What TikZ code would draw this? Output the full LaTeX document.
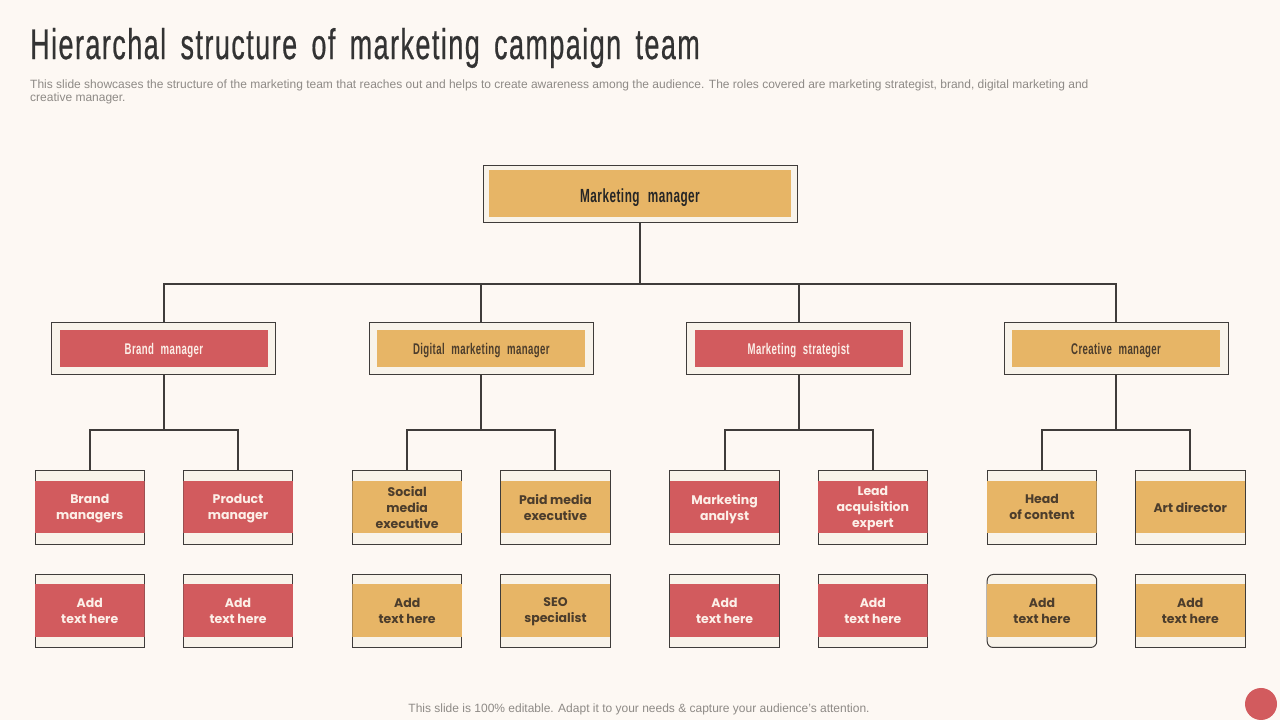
\documentclass[tikz,border=0pt]{standalone}
\usepackage{fontspec}
\usepackage{xcolor}
\usetikzlibrary{positioning}
\setmainfont{Liberation Sans}
\newfontfamily\narrowfont[FakeStretch=0.625,FakeBold=0.5,LetterSpace=3.5,WordSpace=1.6]{Liberation Sans}
\newfontfamily\boxfont[FakeStretch=0.62,LetterSpace=2.5,WordSpace=2.2]{Liberation Sans}
\newfontfamily\roundfont{Poppins}
\definecolor{pagecream}{HTML}{FDF8F3}
\definecolor{boxcream}{HTML}{F8F3EA}
\definecolor{bandred}{HTML}{D25B5E}
\definecolor{bandgold}{HTML}{E7B566}
\definecolor{linedark}{HTML}{3F3C3A}
\definecolor{labelbrown}{HTML}{4C3D2C}
\definecolor{notegray}{HTML}{8E8A86}
\definecolor{labelcream}{HTML}{FCEFE8}

\begin{document}
\begin{tikzpicture}[x=1pt,y=1pt,
                    band/.style n args={3}{draw=linedark,line width=1pt,fill=boxcream,outer sep=0pt,inner sep=0pt,align=center,
                        postaction={path picture={\fill[#1,sharp corners] ([xshift=#2,yshift=-#3]path picture bounding box.north west) rectangle ([xshift=-#2,yshift=#3]path picture bounding box.south east);}}},
                    topbox/.style={band={bandgold}{6pt}{5pt},minimum width=314pt,minimum height=57pt,text=black!85,text height=22pt,text depth=4.5pt,font=\boxfont\bfseries\fontsize{19}{21}\selectfont},
                    midbox/.style={band={#1}{8pt}{7.5pt},minimum width=224pt,minimum height=52.5pt,text height=15.6pt,text depth=4.5pt,font=\boxfont\bfseries\fontsize{15.5}{18}\selectfont},
                    leafbox/.style={band={#1}{0pt}{11pt},minimum width=109.5pt,minimum height=74pt,text depth=1pt,font=\roundfont\bfseries\fontsize{12.5}{16}\selectfont},
                    addbox/.style={band={#1}{0pt}{10pt},minimum width=109.5pt,minimum height=73pt,text depth=1pt,font=\roundfont\bfseries\fontsize{12.5}{16}\selectfont},
                    edge from parent/.style={draw=linedark,line width=2pt},
                    level 1/.style={level distance=154.5pt,sibling distance=317.4pt,
                        edge from parent path={(\tikzparentnode.south) -- ++(0,-61.5pt) -| (\tikzchildnode.north)}},
                    level 2/.style={level distance=159pt,sibling distance=148.3pt,
                        edge from parent path={(\tikzparentnode.south) -- ++(0,-55pt) -| (\tikzchildnode.north)}}]
    \path[use as bounding box,fill=pagecream] (0,0) rectangle (1280,720);
    % heading
    \node[anchor=west,inner sep=0pt,text=black!80,font=\narrowfont\fontsize{43}{46}\selectfont] (title) at (30,672) {Hierarchal structure of marketing campaign team};
    \node[anchor=north west,inner sep=0pt,text=notegray,align=left,font=\fontsize{12}{13}\selectfont] (intro) at (30,640) {This slide showcases the structure of the marketing team that reaches out and helps to create awareness among the audience. The roles covered are marketing strategist, brand, digital marketing and\\creative manager.};
    % tree
    \node[topbox] (manager) at (640,526) {Marketing manager}
        child {node[midbox=bandred,text=labelcream] (brand) {Brand manager}
            child {node[leafbox=bandred,text=labelcream] (brandleaf) {Brand\\managers}}
            child {node[leafbox=bandred,text=labelcream] (productleaf) {Product\\manager}}
        }
        child {node[midbox=bandgold,text=labelbrown] (digital) {Digital marketing manager}
            child {node[leafbox=bandgold,text=labelbrown] (socialleaf) {Social\\media\\executive}}
            child {node[leafbox=bandgold,text=labelbrown] (paidleaf) {Paid media\\executive}}
        }
        child {node[midbox=bandred,text=labelcream] (strategist) {Marketing strategist}
            child {node[leafbox=bandred,text=labelcream] (analystleaf) {Marketing\\analyst}}
            child {node[leafbox=bandred,text=labelcream] (leadleaf) {Lead\\acquisition\\expert}}
        }
        child {node[midbox=bandgold,text=labelbrown] (creative) {Creative manager}
            child {node[leafbox=bandgold,text=labelbrown] (headleaf) {Head\\of content}}
            child {node[leafbox=bandgold,text=labelbrown] (artleaf) {Art director}}
        }
    ;
    % bottom row
    \foreach \up/\fillcol/\textcol/\lab in {brandleaf/bandred/labelcream/Add\\text here,
                                            productleaf/bandred/labelcream/Add\\text here,
                                            socialleaf/bandgold/labelbrown/Add\\text here,
                                            paidleaf/bandgold/labelbrown/SEO\\specialist,
                                            analystleaf/bandred/labelcream/Add\\text here,
                                            leadleaf/bandred/labelcream/Add\\text here,
                                            artleaf/bandgold/labelbrown/Add\\text here}
        \node[addbox=\fillcol,text=\textcol,below=30pt of \up] (add\up) {\lab};
    \node[addbox=bandgold,text=labelbrown,rounded corners=6pt,below=30pt of headleaf] (addheadleaf) {Add\\text here};
    % footer
    \node[text=notegray,inner sep=0pt,font=\fontsize{12}{14}\selectfont] (footer) at (639,10.5) {This slide is 100\% editable. Adapt it to your needs \& capture your audience’s attention.};
    \fill[bandred] (1261,16) circle (16pt);
\end{tikzpicture}
\end{document}
